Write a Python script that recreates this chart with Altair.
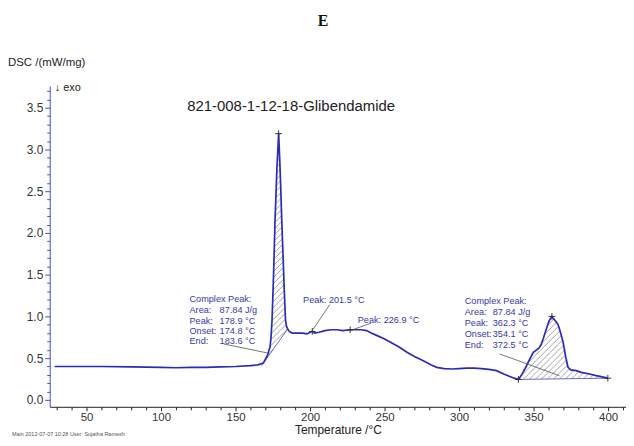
import altair as alt
import pandas as pd
import numpy as np

# ---------------- data ----------------
temps = [28.6, 40, 60, 80, 100, 110, 120, 130, 140, 150, 160, 165, 168.6, 171.3, 173.1,
         173.8, 174.5, 175.5, 176.5, 177.7, 178.9, 179.6, 180.3, 181.0, 181.8, 182.6, 183.5,
         184.2, 185.0, 186, 188, 190, 192, 195, 198, 200, 201.5, 203, 206, 210, 214, 218,
         222, 226.9, 230, 234, 238, 241, 245, 250, 254, 260, 265, 270, 276, 281, 285, 290,
         295, 300, 305, 310, 315, 320, 325, 330, 334, 337, 339.8, 342, 345, 347.5, 349.8,
         352, 353.5, 355, 356.4, 358, 359.1, 360.5, 362.3, 363.5, 365, 366.5, 368, 369.8,
         371.5, 373.1, 375, 378.6, 382, 387.5, 392, 396, 399.8]
dsc = [0.40, 0.40, 0.40, 0.395, 0.39, 0.385, 0.39, 0.39, 0.395, 0.40, 0.41, 0.42, 0.44, 0.53, 0.63,
       0.75, 0.96, 1.50, 2.15, 2.75, 3.19, 2.90, 2.55, 2.15, 1.76, 1.35, 0.96,
       0.88, 0.85, 0.82, 0.80, 0.80, 0.80, 0.80, 0.79, 0.81, 0.82, 0.80, 0.81, 0.83, 0.84, 0.84,
       0.83, 0.84, 0.84, 0.84, 0.83, 0.80, 0.77, 0.73, 0.69, 0.63, 0.57, 0.52, 0.47, 0.42, 0.39, 0.375,
       0.37, 0.375, 0.38, 0.38, 0.375, 0.365, 0.35, 0.31, 0.28, 0.26, 0.245, 0.30, 0.40, 0.49, 0.57,
       0.60, 0.62, 0.66, 0.73, 0.82, 0.88, 0.95, 1.00, 0.97, 0.94, 0.90, 0.81, 0.69,
       0.52, 0.39, 0.36, 0.35, 0.33, 0.31, 0.29, 0.275, 0.26]

# integration baselines of the two complex peaks (start T, start value, end T, end value)
peak_bases = [(167.5, 0.41, 185.0, 0.85), (339.8, 0.245, 399.8, 0.26)]

marker_T = [178.9, 201.5, 226.9, 362.3, 339.8, 399.8]
marker_v = [3.19, 0.82, 0.84, 1.00, 0.245, 0.26]

# leader lines (from, to)
leader_T1 = [142.0, 213.1, 226.9, 327.3]
leader_v1 = [0.67, 1.14, 0.83, 0.55]
leader_T2 = [172.0, 201.5, 241.0, 367.3]
leader_v2 = [0.56, 0.83, 0.92, 0.29]

block_keys = ["Complex Peak:", "Area:", "Peak:", "Onset:", "End:"]
block1_vals = ["", "87.84 J/g", "178.9 °C", "174.8 °C", "183.6 °C"]
block2_vals = ["", "87.84 J/g", "362.3 °C", "354.1 °C", "372.5 °C"]
block1_T = [119.1, 139.3]
block1_v = [1.21, 1.08, 0.95, 0.83, 0.71]
block2_T = [303.8, 322.6]
block2_v = [1.18, 1.05, 0.92, 0.79, 0.66]

peak_labels = ["Peak: 201.5 °C", "Peak: 226.9 °C"]
peak_label_T = [195.3, 232.0]
peak_label_v = [1.20, 0.96]

x_ticks = list(range(30, 411, 10))
y_ticks = [round(i * 0.1, 1) for i in range(0, 38)]

# ---------------- layout ----------------
X_DOM = [25.3, 412.0]
Y_DOM = [-0.083, 3.762]
W, H = 580, 323
FONT = "Liberation Sans"
BLUE = "#2b2bb8"
TXT_BLUE = "#3838a8"

xs = alt.Scale(domain=X_DOM, nice=False, zero=False)
ys = alt.Scale(domain=Y_DOM, nice=False, zero=False)

x_axis = alt.Axis(values=x_ticks, labelExpr="datum.value % 50 === 0 ? datum.label : ''",
                  tickSize={"condition": {"test": "datum.value % 50 === 0", "value": 4}, "value": 3},
                  grid=False, domainColor="#222", tickColor="#222", labelColor="#333",
                  labelFont=FONT, labelFontSize=11.5, labelFlush=False, labelOverlap=False,
                  labelPadding=1, title="Temperature /°C", titleFont=FONT, titleFontSize=12,
                  titleFontWeight="normal", titleColor="#222", titlePadding=1)
y_axis = alt.Axis(values=y_ticks,
                  labelExpr="abs(datum.value*2 - round(datum.value*2)) < 0.001 ? format(datum.value, '.1f') : ''",
                  tickSize={"condition": {"test": "abs(datum.value*2 - round(datum.value*2)) < 0.001", "value": 5}, "value": 3},
                  grid=False, domainColor="#4a4ad0", tickColor="#4a4ad0", labelColor="#333",
                  labelFont=FONT, labelFontSize=12, labelOverlap=False, labelPadding=2,
                  title=None)


def X(field):
    return alt.X(field, type="quantitative", scale=xs, axis=x_axis)


def Y(field):
    return alt.Y(field, type="quantitative", scale=ys, axis=y_axis)


# ---------------- hatch (derived from curve, baseline and scales) ----------------
def hatch(t0, b0, t1, b1, step=6.0):
    sx = W / (X_DOM[1] - X_DOM[0])
    sy = H / (Y_DOM[1] - Y_DOM[0])
    Ts = np.linspace(t0, t1, 4000)
    top = np.interp(Ts, temps, dsc)
    base = b0 + (b1 - b0) * (Ts - t0) / (t1 - t0)
    px = (Ts - X_DOM[0]) * sx
    lo = (base * sy - px).min()
    hi = (top * sy - px).max()
    segs = []
    for c in np.arange(np.floor(lo / step) * step, hi + step, step):
        yv = (px + c) / sy
        inside = (yv >= base) & (yv <= top)
        idx = np.where(inside)[0]
        if len(idx) == 0:
            continue
        splits = np.where(np.diff(idx) > 1)[0]
        starts = np.concatenate([[idx[0]], idx[splits + 1]])
        ends = np.concatenate([idx[splits], [idx[-1]]])
        for s, e in zip(starts, ends):
            if e > s:
                segs.append((Ts[s], yv[s], Ts[e], yv[e]))
    return segs


hsegs = []
for b in peak_bases:
    hsegs += hatch(*b)
hatch_df = pd.DataFrame(hsegs, columns=["t1", "v1", "t2", "v2"])

curve_df = pd.DataFrame({"T": temps, "v": dsc})
base_df = pd.DataFrame(peak_bases, columns=["t1", "v1", "t2", "v2"])
marker_df = pd.DataFrame({"T": marker_T, "v": marker_v})
leader_df = pd.DataFrame({"t1": leader_T1, "v1": leader_v1, "t2": leader_T2, "v2": leader_v2})

rows = []
for blk_T, blk_v, vals in [(block1_T, block1_v, block1_vals), (block2_T, block2_v, block2_vals)]:
    for k, v, val in zip(block_keys, blk_v, vals):
        rows.append({"T": blk_T[0], "v": v, "txt": k})
        if val:
            rows.append({"T": blk_T[1], "v": v, "txt": val})
for t, T, v in zip(peak_labels, peak_label_T, peak_label_v):
    rows.append({"T": T, "v": v, "txt": t})
ann_df = pd.DataFrame(rows)

sample_df = pd.DataFrame({"T": [187.3], "v": [3.52], "txt": ["821-008-1-12-18-Glibendamide"]})

hatch_layer = alt.Chart(hatch_df).mark_rule(color="#7d7d7d", strokeWidth=0.7).encode(
    x=X("t1"), y=Y("v1"), x2="t2", y2="v2")
base_layer = alt.Chart(base_df).mark_rule(color="#5a5ac8", strokeWidth=0.9).encode(
    x=X("t1"), y=Y("v1"), x2="t2", y2="v2")
curve_layer = alt.Chart(curve_df).mark_line(color=BLUE, strokeWidth=1.7).encode(
    x=X("T"), y=Y("v"))
leader_layer = alt.Chart(leader_df).mark_rule(color="#555", strokeWidth=0.8).encode(
    x=X("t1"), y=Y("v1"), x2="t2", y2="v2")
marker_layer = alt.Chart(marker_df).mark_point(shape="M-1,0L1,0M0,-1L0,1", size=45, filled=False,
                                               color="#333", strokeWidth=1, opacity=1).encode(
    x=X("T"), y=Y("v"))
ann_layer = alt.Chart(ann_df).mark_text(align="left", baseline="middle", font=FONT, fontSize=9.2,
                                        color=TXT_BLUE).encode(x=X("T"), y=Y("v"), text="txt:N")
sample_layer = alt.Chart(sample_df).mark_text(align="center", baseline="middle", font=FONT,
                                              fontSize=15, color="#222").encode(
    x=X("T"), y=Y("v"), text="txt:N")

# texts placed around the plot frame
title_layer = alt.Chart(pd.DataFrame({"t": ["E"]})).mark_text(
    font="Liberation Serif", fontWeight="bold", fontSize=16, color="#111", align="center",
    baseline="middle").encode(x=alt.value(275), y=alt.value(-65), text="t:N")
ylab_layer = alt.Chart(pd.DataFrame({"t": ["DSC /(mW/mg)"]})).mark_text(
    font=FONT, fontSize=11.5, color="#222", align="left", baseline="middle").encode(
    x=alt.value(-42), y=alt.value(-23), text="t:N")
exo_layer = alt.Chart(pd.DataFrame({"t": ["↓ exo"]})).mark_text(
    font=FONT, fontSize=11, color="#222", align="left", baseline="middle").encode(
    x=alt.value(5), y=alt.value(2), text="t:N")
foot_layer = alt.Chart(pd.DataFrame({"t": ["Main   2012-07-07 10:28    User: Sujatha Ramesh"]})).mark_text(
    font=FONT, fontSize=5.5, color="#555", align="left", baseline="middle").encode(
    x=alt.value(-38), y=alt.value(350), text="t:N")

chart = alt.layer(
    hatch_layer, base_layer, curve_layer, leader_layer, marker_layer, ann_layer, sample_layer,
    title_layer, ylab_layer, exo_layer, foot_layer
).properties(
    width=W, height=H,
    autosize=alt.AutoSizeParams(type="none"),
    padding={"left": 42, "top": 77, "right": 0, "bottom": 30},
    background="white",
).configure_view(strokeWidth=0)

chart.save("out.html", embed_options={"renderer": "svg", "actions": False})
